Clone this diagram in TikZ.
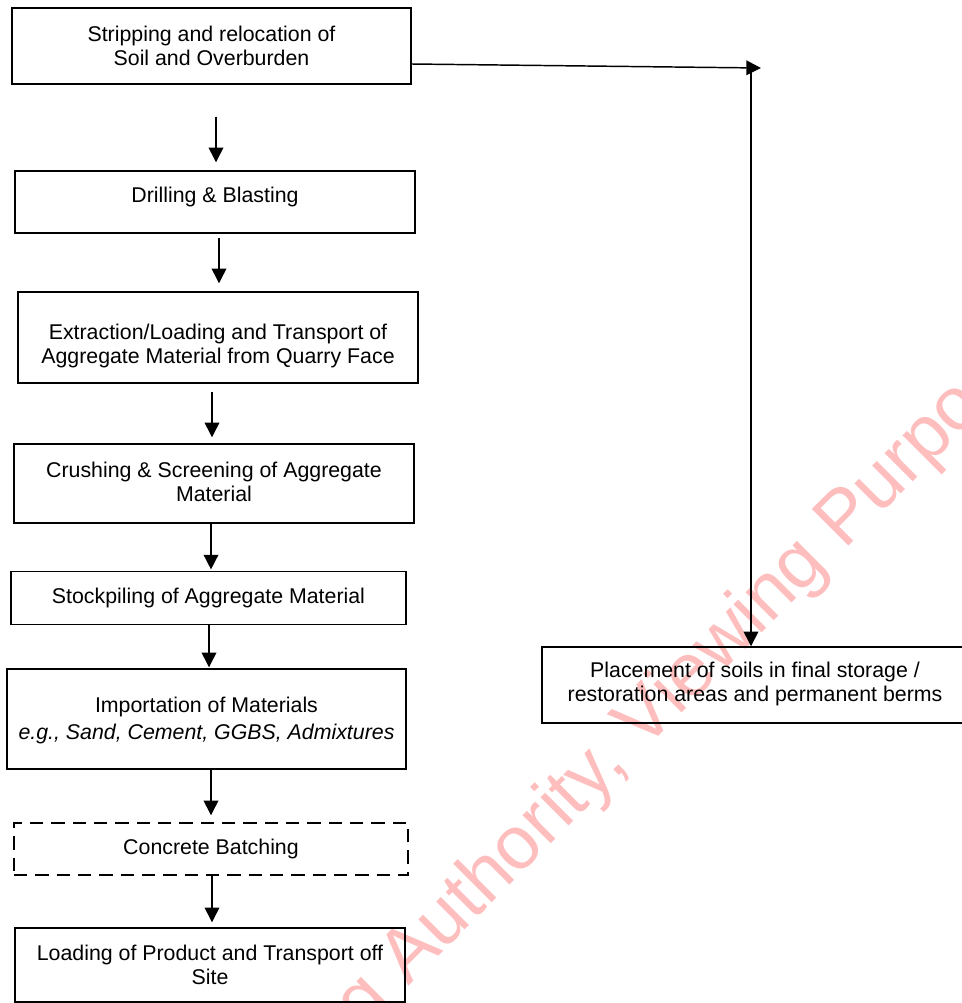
\documentclass[tikz,border=0pt]{standalone}
\usepackage{fontspec}
\setmainfont{Liberation Sans}
\usetikzlibrary{arrows.meta}
\definecolor{wmpink}{RGB}{255,190,190}
\begin{document}
\begin{tikzpicture}[x=0.75pt,y=-0.75pt,
  box/.style={draw, line width=1.1pt, inner sep=0pt},
  dbox/.style={box, dash pattern=on 10pt off 6pt},
  txt/.style={font=\fontsize{16}{18}\selectfont, align=center, inner sep=0pt},
  arr/.style={line width=1.1pt, -{Triangle[width=11pt,length=11pt]}},
  wm/.style={font=\fontsize{56.5}{60}\selectfont, text=wmpink, rotate=45, anchor=base west, inner sep=0pt}]
\useasboundingbox (0,0) rectangle (962,1003);
\clip (0,0) rectangle (962,1003);
% watermark
\node[wm] (wmark) at (408,987) {\llap{Planning }Authority, Viewing Purposes Only};
% boxes
\node[box, minimum width=299.25pt, minimum height=57pt] (b1) at (211.5,46) {};
\node[txt] (t1) at (211.5,45.5) {Stripping and relocation of\\Soil and Overburden};
\node[box, minimum width=300pt, minimum height=46.5pt] (b2) at (215,202) {};
\node[txt] (t2) at (215,196.5) {Drilling \& Blasting};
\node[box, minimum width=300pt, minimum height=68.25pt] (b3) at (218,337.5) {};
\node[txt] (t3) at (218,345.5) {Extraction/Loading and Transport of\\Aggregate Material from Quarry Face};
\node[box, minimum width=300pt, minimum height=59.25pt] (b4) at (214,483.5) {};
\node[txt] (t4) at (214,482) {Crushing \& Screening of Aggregate\\Material};
\node[box, minimum width=296.25pt, minimum height=39.75pt] (b5) at (208.5,598) {};
\node[txt] (t5) at (208.5,597.5) {Stockpiling of Aggregate Material};
\node[box, minimum width=299.25pt, minimum height=75pt] (b6) at (206.5,719) {};
\node[txt] (t6) at (206.5,720.5) {Importation of Materials\\[2.25pt]\itshape e.g., Sand, Cement, GGBS, Admixtures};
\node[dbox, minimum width=295.5pt, minimum height=39pt] (b7) at (211,849) {};
\node[txt] (t7) at (211,848.5) {Concrete Batching};
\node[box, minimum width=292.5pt, minimum height=55.5pt] (b8) at (210,965) {};
\node[txt] (t8) at (210,964.5) {Loading of Product and Transport off\\Site};
\node[box, minimum width=318pt, minimum height=57pt] (b9) at (754,685) {};
\node[txt] (t9) at (755,684) {Placement of soils in final storage /\\restoration areas and permanent berms};
% arrow columns
\coordinate (x1) at (216,0);
\coordinate (x2) at (219,0);
\coordinate (x3) at (212,0);
\coordinate (x4) at (211,0);
\coordinate (x5) at (209,0);
\coordinate (x6) at (211,0);
\coordinate (x7) at (212,0);
\coordinate (hend) at (761,68);
\coordinate (vtop) at (751,72);
% arrows
\draw[arr, shorten <=24pt, shorten >=6pt] (b1.south -| x1) -- (b2.north -| x1);
\draw[arr, shorten <=3pt, shorten >=6pt] (b2.south -| x2) -- (b3.north -| x2);
\draw[arr, shorten <=6pt, shorten >=4.5pt] (b3.south -| x3) -- (b4.north -| x3);
\draw[arr, shorten >=1pt] (b4.south -| x4) -- (b5.north -| x4);
\draw[arr, shorten >=0.75pt] (b5.south -| x5) -- (b6.north -| x5);
\draw[arr, shorten >=5.25pt] (b6.south -| x6) -- (b7.north -| x6);
\draw[arr, shorten >=3.75pt] (b7.south -| x7) -- (b8.north -| x7);
\draw[arr] ([yshift=-13.5pt]b1.east) -- (hend);
\draw[arr] (vtop) -- (b9.north -| vtop);
\end{tikzpicture}
\end{document}
